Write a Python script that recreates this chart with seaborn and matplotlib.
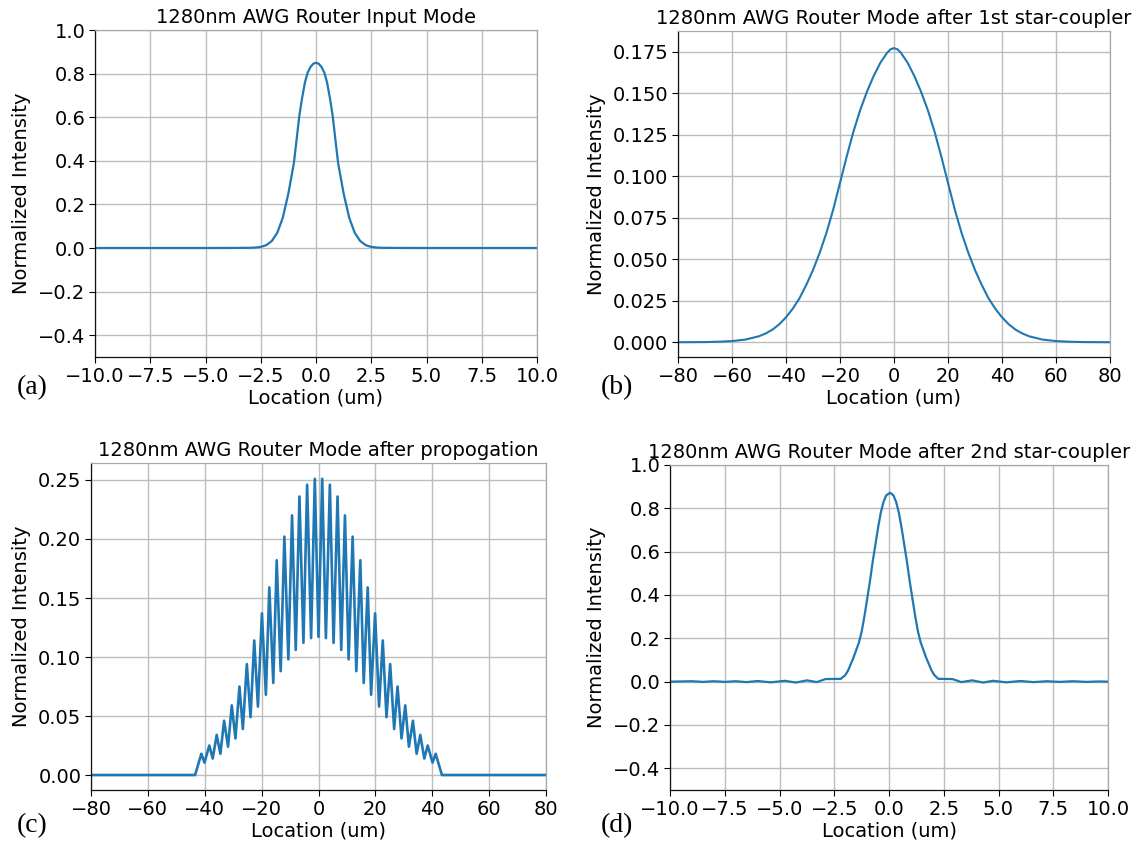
import matplotlib
matplotlib.use("Agg")
import matplotlib.pyplot as plt
import seaborn as sns
import pandas as pd

# ---------------- data ----------------
# (a) input mode
a_x = [-10, -5, -3.5, -3.0, -2.75, -2.5, -2.25, -2.0, -1.75, -1.5, -1.25, -1.0, -0.875, -0.75,
       -0.625, -0.5, -0.375, -0.25, -0.125, 0.0, 0.125, 0.25, 0.375, 0.5, 0.625, 0.75, 0.875,
       1.0, 1.25, 1.5, 1.75, 2.0, 2.25, 2.5, 2.75, 3.0, 3.5, 5, 10]
a_y = [0.0, 0.0, 0.0005, 0.001, 0.002, 0.005, 0.013, 0.032, 0.07, 0.14, 0.25, 0.39, 0.50, 0.61,
       0.69, 0.76, 0.805, 0.83, 0.845, 0.85, 0.845, 0.83, 0.805, 0.76, 0.69, 0.61, 0.50,
       0.39, 0.25, 0.14, 0.07, 0.032, 0.013, 0.005, 0.002, 0.001, 0.0005, 0.0, 0.0]

# (b) after 1st star-coupler
b_x = [-80, -70, -65, -60, -55, -50, -47.5, -45, -42.5, -40, -37.5, -35, -32.5, -30, -27.5,
       -25, -22.5, -20, -17.5, -15, -12.5, -10, -7.5, -5, -2.5, -1.25, 0,
       1.25, 2.5, 5, 7.5, 10, 12.5, 15, 17.5, 20, 22.5, 25, 27.5, 30, 32.5, 35, 37.5, 40,
       42.5, 45, 47.5, 50, 55, 60, 65, 70, 80]
b_y = [0.0, 0.0001, 0.0003, 0.0007, 0.0016, 0.0036, 0.0053, 0.0076, 0.0108, 0.0150, 0.0202,
       0.0265, 0.0345, 0.0435, 0.0540, 0.0660, 0.0800, 0.0960, 0.1120, 0.1270, 0.1400, 0.1510,
       0.1605, 0.1685, 0.1745, 0.1765, 0.1772,
       0.1765, 0.1745, 0.1685, 0.1605, 0.1510, 0.1400, 0.1270, 0.1120, 0.0960, 0.0800, 0.0660,
       0.0540, 0.0435, 0.0345, 0.0265, 0.0202, 0.0150, 0.0108, 0.0076, 0.0053, 0.0036, 0.0016,
       0.0007, 0.0003, 0.0001, 0.0]

# (c) after propagation (peaks and troughs of the fringes)
c_x = [-80.0, -43.4, -41.2, -40.1, -38.4, -37.2, -35.8, -34.5, -33.2, -31.8, -30.5, -29.2,
       -27.8, -26.6, -25.2, -23.9, -22.6, -21.3, -19.9, -18.5, -17.3, -15.9, -14.7, -13.3,
       -12.0, -10.6, -9.3, -8.0, -6.7, -5.3, -4.0, -2.6, -1.3, 0.0, 1.3, 2.6, 4.0, 5.3, 6.7,
       8.0, 9.3, 10.6, 12.0, 13.3, 14.7, 15.9, 17.3, 18.5, 19.9, 21.3, 22.6, 23.9, 25.2, 26.6,
       27.8, 29.2, 30.5, 31.8, 33.2, 34.5, 35.8, 37.2, 38.4, 40.1, 41.2, 43.4, 80.0]
c_y = [0.0, 0.0, 0.018, 0.0105, 0.025, 0.014, 0.034, 0.018, 0.046, 0.024, 0.059, 0.031,
       0.075, 0.039, 0.094, 0.049, 0.114, 0.058, 0.137, 0.068, 0.159, 0.078, 0.182, 0.088,
       0.202, 0.098, 0.220, 0.106, 0.236, 0.112, 0.246, 0.116, 0.251, 0.117, 0.251, 0.116,
       0.246, 0.112, 0.236, 0.106, 0.220, 0.098, 0.202, 0.088, 0.182, 0.078, 0.159, 0.068,
       0.137, 0.058, 0.114, 0.049, 0.094, 0.039, 0.075, 0.031, 0.059, 0.024, 0.046, 0.018,
       0.034, 0.014, 0.025, 0.0105, 0.018, 0.0, 0.0]

# (d) after 2nd star-coupler
d_x = [-10, -9.0, -8.5, -8.0, -7.5, -7.0, -6.5, -6.0, -5.4, -4.75, -4.25, -3.75, -3.3, -2.9,
       -2.2, -2.0, -1.875, -1.75, -1.625, -1.5, -1.375, -1.25, -1.125, -1.0, -0.875, -0.75,
       -0.625, -0.5, -0.375, -0.25, -0.125, 0.05, 0.2, 0.325, 0.45, 0.575, 0.7, 0.825, 0.95,
       1.075, 1.2, 1.325, 1.45, 1.575, 1.7, 1.825, 1.95, 2.075, 2.25, 2.9, 3.3, 3.8, 4.3,
       4.75, 5.35, 6.0, 6.6, 7.2, 7.8, 8.4, 9.0, 9.6, 10]
d_y = [0.0, 0.002, -0.001, 0.002, -0.001, 0.002, -0.002, 0.003, -0.003, 0.004, -0.004, 0.006,
       -0.002, 0.012, 0.013, 0.03, 0.05, 0.08, 0.11, 0.145, 0.18, 0.23, 0.30, 0.38, 0.46,
       0.55, 0.63, 0.71, 0.78, 0.83, 0.86, 0.872, 0.86, 0.83, 0.78, 0.71, 0.63, 0.55, 0.46,
       0.38, 0.30, 0.23, 0.18, 0.145, 0.11, 0.08, 0.05, 0.03, 0.013, 0.012, -0.002, 0.006,
       -0.004, 0.004, -0.003, 0.003, -0.002, 0.002, -0.001, 0.002, -0.001, 0.001, 0.0]

titles = ["1280nm AWG Router Input Mode",
          "1280nm AWG Router Mode after 1st star-coupler",
          "1280nm AWG Router Mode after propogation",
          "1280nm AWG Router Mode after 2nd star-coupler"]
panel_tags = ["(a)", "(b)", "(c)", "(d)"]
xlabel = "Location (um)"
ylabel = "Normalized Intensity"

xt_small = [-10.0, -7.5, -5.0, -2.5, 0.0, 2.5, 5.0, 7.5, 10.0]
xt_big = [-80, -60, -40, -20, 0, 20, 40, 60, 80]
yt_a = [-0.4, -0.2, 0.0, 0.2, 0.4, 0.6, 0.8, 1.0]
yt_b = [0.000, 0.025, 0.050, 0.075, 0.100, 0.125, 0.150, 0.175]
yt_c = [0.00, 0.05, 0.10, 0.15, 0.20, 0.25]

# ---------------- figure ----------------
sns.set_style("white")
plt.rcParams['font.family'] = ['DejaVu Sans']
plt.rcParams['text.color'] = 'black'
plt.rcParams['axes.labelcolor'] = 'black'
plt.rcParams['xtick.color'] = 'black'
plt.rcParams['ytick.color'] = 'black'

W, H = 1144, 851
fig = plt.figure(figsize=(W / 100, H / 100), dpi=100)

def rect(l, t, r, b):
    return [l / W, 1 - b / H, (r - l) / W, (b - t) / H]

specs = [
    dict(r=rect(95, 30, 537, 357), x=a_x, y=a_y, xt=xt_small, yt=yt_a, xl=(-10, 10),
         yl=(-0.5, 1.0), fmt="{:.1f}", xfmt="{:.1f}", tag=(17, 388), lw=1.6),
    dict(r=rect(678, 31, 1110, 357), x=b_x, y=b_y, xt=xt_big, yt=yt_b, xl=(-80, 80),
         yl=(-0.0089, 0.1875), fmt="{:.3f}", xfmt="{:d}", tag=(601, 388), lw=1.5),
    dict(r=rect(91, 463, 546, 790), x=c_x, y=c_y, xt=xt_big, yt=yt_c, xl=(-80, 80),
         yl=(-0.0127, 0.2644), fmt="{:.2f}", xfmt="{:d}", tag=(17, 826), lw=1.9),
    dict(r=rect(670, 465, 1108, 790), x=d_x, y=d_y, xt=xt_small, yt=yt_a, xl=(-10, 10),
         yl=(-0.5, 1.0), fmt="{:.1f}", xfmt="{:.1f}", tag=(601, 826), lw=1.6),
]

def lab(v, f):
    return f.format(v).replace("-", "\u2212")

for i, sp in enumerate(specs):
    ax = fig.add_axes(sp["r"])
    df = pd.DataFrame({"x": sp["x"], "y": sp["y"]})
    sns.lineplot(data=df, x="x", y="y", ax=ax, color="#1f77b4", linewidth=sp["lw"],
                 sort=False, estimator=None)
    ax.set_xlim(*sp["xl"])
    ax.set_ylim(*sp["yl"])
    ax.set_xticks(sp["xt"])
    ax.set_xticklabels([lab(v, sp["xfmt"]) for v in sp["xt"]])
    ax.set_yticks(sp["yt"])
    ax.set_yticklabels([lab(v, sp["fmt"]) for v in sp["yt"]])
    ax.tick_params(axis="both", labelsize=14, direction="out", length=4, width=0.8,
                   color="black", labelcolor="black", left=True, bottom=True, pad=3)
    ax.grid(True, color="#bdbdbd", linewidth=1.0)
    ax.set_axisbelow(True)
    for s in ["left", "bottom"]:
        ax.spines[s].set_color("#111111")
        ax.spines[s].set_linewidth(0.9)
    for s in ["top", "right"]:
        ax.spines[s].set_color("#a8a8a8")
        ax.spines[s].set_linewidth(0.9)
    ax.set_title(titles[i], fontsize=14, pad=5, color="black")
    ax.set_xlabel(xlabel, fontsize=14, labelpad=2, color="black")
    ax.set_ylabel(ylabel, fontsize=14, labelpad=5, color="black")
    tx, ty = sp["tag"]
    fig.text(tx / W, 1 - ty / H, panel_tags[i], fontsize=20, family="Liberation Serif",
             ha="left", va="center", color="black")

fig.savefig("out.png", dpi=100)
